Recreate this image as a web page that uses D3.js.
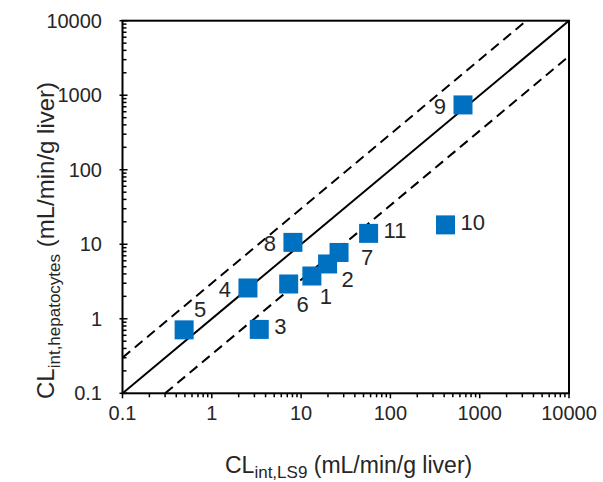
<!DOCTYPE html>
<html>
<head>
<meta charset="utf-8">
<script src="https://cdn.jsdelivr.net/npm/d3@7"></script>
<style>
  html, body { margin: 0; padding: 0; background: #fff; }
  svg { display: block; font-family: "Liberation Sans", Arial, sans-serif; }
</style>
</head>
<body>
<svg id="chart" width="603" height="482"></svg>
<script>
// ---- data ----
const compoundIds = ["1", "2", "3", "4", "5", "6", "7", "8", "9", "10", "11"];
const clLS9 = [13.2, 19.8, 3.4, 2.54, 0.49, 7.26, 26.6, 8.1, 650, 414, 57];
const clHepatocytes = [3.75, 5.44, 0.72, 2.59, 0.71, 2.93, 7.76, 10.6, 741, 18.2, 14.0];
const labelPlacement = ["belowRight", "lowerRight", "right", "left", "aboveRight", "belowRight", "rightLow", "left", "left", "right", "right"];
const tickValues = [0.1, 1, 10, 100, 1000, 10000];
const tickLabels = ["0.1", "1", "10", "100", "1000", "10000"];
const foldLines = [1, 3, 1 / 3]; // y = k * x

// ---- layout ----
const svg = d3.select("#chart");
const mLeft = 122.5, mRight = 569, mTop = 20.7, mBottom = 393.3;
const x = d3.scaleLog().domain([0.1, 10000]).range([mLeft, mRight]);
const y = d3.scaleLog().domain([0.1, 10000]).range([mBottom, mTop]);
const blue = "#0070C0";
const textColor = "#262626";

// clip
svg.append("defs").append("clipPath").attr("id", "clip")
  .append("rect").attr("x", mLeft).attr("y", mTop).attr("width", mRight - mLeft).attr("height", mBottom - mTop);

// reference lines
const lineGen = d3.line().x(d => x(d[0])).y(d => y(d[1]));
const g = svg.append("g").attr("clip-path", "url(#clip)");
foldLines.forEach(k => {
  const x0 = Math.max(0.1, 0.1 / k), x1 = Math.min(10000, 10000 / k);
  const pts = [[x0, k * x0], [x1, k * x1]];
  g.append("path")
    .attr("d", lineGen(pts))
    .attr("fill", "none")
    .attr("stroke", "#000")
    .attr("stroke-width", 2)
    .attr("stroke-dasharray", k === 1 ? null : "10,6");
});

// ticks
const allTicks = x.ticks();
const axes = svg.append("g").attr("stroke", "#000");
allTicks.forEach(t => {
  const major = tickValues.includes(t);
  axes.append("line").attr("x1", x(t)).attr("x2", x(t))
    .attr("y1", mBottom).attr("y2", mBottom + (major ? 5 : 4)).attr("stroke-width", 1.5);
  axes.append("line").attr("y1", y(t)).attr("y2", y(t))
    .attr("x1", major ? mLeft - 3 : mLeft).attr("x2", mLeft + (major ? 5 : 4)).attr("stroke-width", 1.5);
});

// frame
svg.append("rect").attr("x", mLeft).attr("y", mTop).attr("width", mRight - mLeft).attr("height", mBottom - mTop)
  .attr("fill", "none").attr("stroke", "#000").attr("stroke-width", 2);

// tick labels
const fmt = d => tickLabels[tickValues.indexOf(d)];
svg.append("g").selectAll("text").data(tickValues).join("text")
  .attr("x", d => x(d)).attr("y", 420)
  .attr("text-anchor", "middle").attr("font-size", 20).attr("fill", textColor)
  .text(fmt);
svg.append("g").selectAll("text").data(tickValues).join("text")
  .attr("x", 102).attr("y", d => y(d)).attr("dy", "0.35em")
  .attr("text-anchor", "end").attr("font-size", 20).attr("fill", textColor)
  .text(fmt);

// points
const pts = compoundIds.map((id, i) => ({ id, xv: clLS9[i], yv: clHepatocytes[i], place: labelPlacement[i] }));
const sq = 19;
svg.append("g").selectAll("rect").data(pts).join("rect")
  .attr("x", d => x(d.xv) - sq / 2).attr("y", d => y(d.yv) - sq / 2)
  .attr("width", sq).attr("height", sq).attr("fill", blue);

// point labels
const placeStyle = {
  right:      { dx: 15,  dy: -3, anchor: "start" },
  left:       { dx: -17, dy: 1,  anchor: "end" },
  belowRight: { dx: 14,  dy: 20, anchor: "middle" },
  lowerRight: { dx: 20,  dy: 15, anchor: "middle" },
  rightLow:   { dx: 28,  dy: 5,  anchor: "middle" },
  aboveRight: { dx: 16,  dy: -21, anchor: "middle" }
};
svg.append("g").selectAll("text").data(pts).join("text")
  .attr("x", d => x(d.xv) + placeStyle[d.place].dx)
  .attr("y", d => y(d.yv) + placeStyle[d.place].dy)
  .attr("dy", "0.35em")
  .attr("text-anchor", d => placeStyle[d.place].anchor)
  .attr("font-size", 22).attr("fill", textColor)
  .text(d => d.id);

// axis titles
const xt = svg.append("text").attr("x", 225).attr("y", 473).attr("font-size", 23).attr("fill", textColor);
xt.append("tspan").text("CL");
xt.append("tspan").attr("font-size", 17).attr("dy", 5).text("int,LS9");
xt.append("tspan").attr("dy", -5).text(" (mL/min/g liver)");

const yt = svg.append("text").attr("transform", "translate(54,399) rotate(-90)")
  .attr("font-size", 24).attr("fill", textColor);
yt.append("tspan").text("CL");
yt.append("tspan").attr("font-size", 17).attr("dy", 6).text("int,hepatocytes");
yt.append("tspan").attr("dy", -6).text(" (mL/min/g liver)");
</script>
</body>
</html>
